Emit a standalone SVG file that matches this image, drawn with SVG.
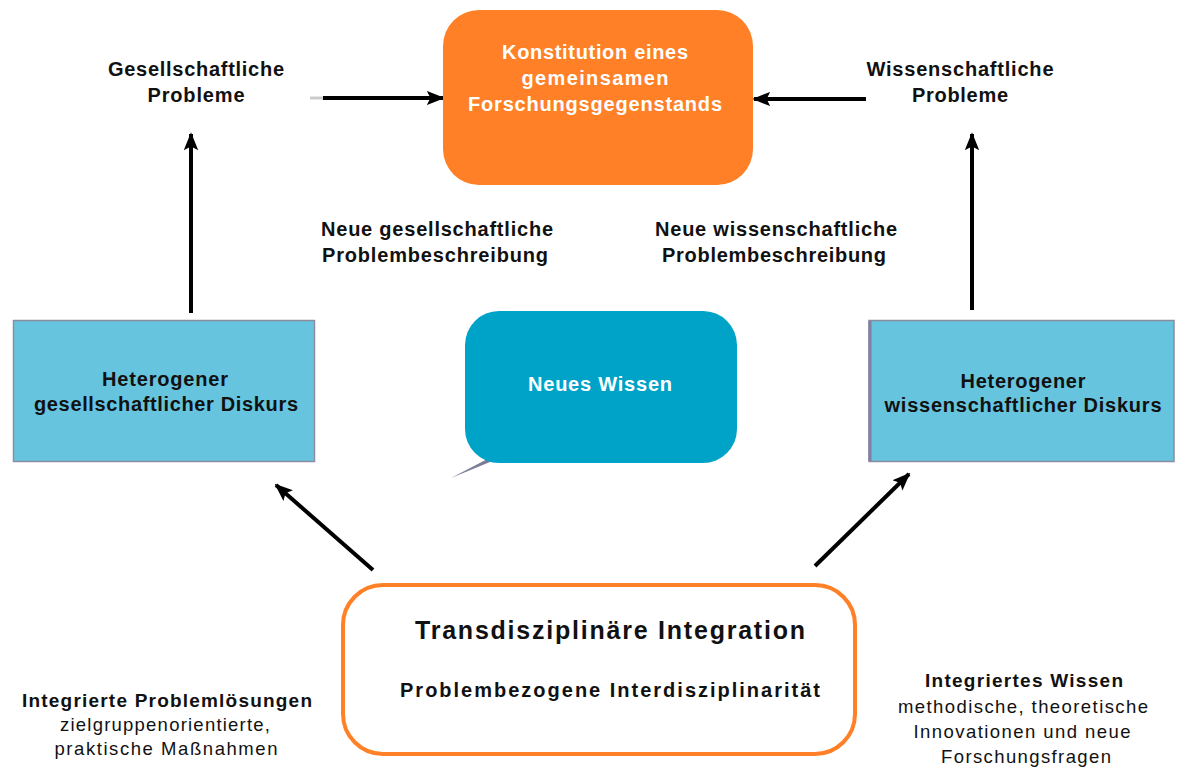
<svg xmlns="http://www.w3.org/2000/svg" width="1179" height="780" viewBox="0 0 1179 780">
<defs>
<style>
text{font-family:"Liberation Sans",Arial,sans-serif;text-anchor:middle;fill:#111;}
.b{font-weight:bold;font-size:20px;}
.w{fill:#fff;font-weight:bold;font-size:20px;}
.b2{font-weight:bold;font-size:19px;}
.n{font-size:18.5px;}
.line{stroke:#000;stroke-width:4;fill:none;marker-end:url(#ah);}
</style>
<marker id="ah" viewBox="0 0 10 10" refX="9" refY="5" markerWidth="4.5" markerHeight="4.5" orient="auto" markerUnits="strokeWidth">
<path d="M0,1 L10,5 L0,9 L2,5 Z" fill="#000"/>
</marker>
</defs>
<rect width="1179" height="780" fill="#fff"/>

<g id="connectors">
<line x1="310" y1="98" x2="323" y2="98" stroke="#ccc" stroke-width="3"/>
<line class="line" x1="323" y1="98" x2="443" y2="98"/>
<line class="line" x1="866" y1="99" x2="754" y2="99"/>
<line class="line" x1="191" y1="313" x2="191" y2="134"/>
<line class="line" x1="972" y1="310" x2="972" y2="134"/>
<line class="line" x1="373" y1="570" x2="276" y2="485"/>
<line class="line" x1="815" y1="566" x2="909" y2="474"/>
</g>

<g id="konstitution">
<rect x="443" y="10" width="310" height="175" rx="36" fill="#FF8026"/>
<text class="w" x="595" y="59" textLength="186" lengthAdjust="spacing">Konstitution eines</text>
<text class="w" x="595" y="85" textLength="147" lengthAdjust="spacing">gemeinsamen</text>
<text class="w" x="595" y="111" textLength="254" lengthAdjust="spacing">Forschungsgegenstands</text>
</g>

<g id="gesellschaftliche-probleme">
<text class="b" x="196" y="76" textLength="176" lengthAdjust="spacing">Gesellschaftliche</text>
<text class="b" x="196" y="102" textLength="97" lengthAdjust="spacing">Probleme</text>
</g>

<g id="wissenschaftliche-probleme">
<text class="b" x="960" y="76" textLength="187" lengthAdjust="spacing">Wissenschaftliche</text>
<text class="b" x="960" y="102" textLength="96" lengthAdjust="spacing">Probleme</text>
</g>

<g id="neue-gesellschaftliche">
<text class="b" x="437" y="236" textLength="232" lengthAdjust="spacing">Neue gesellschaftliche</text>
<text class="b" x="435" y="262" textLength="226" lengthAdjust="spacing">Problembeschreibung</text>
</g>

<g id="neue-wissenschaftliche">
<text class="b" x="776" y="236" textLength="242" lengthAdjust="spacing">Neue wissenschaftliche</text>
<text class="b" x="774" y="262" textLength="224" lengthAdjust="spacing">Problembeschreibung</text>
</g>

<g id="diskurs-gesellschaft">
<rect x="13.5" y="320.5" width="301" height="141" fill="#66C4DF" stroke="#8C8CA0" stroke-width="1.5"/>
<text class="b" x="165" y="386" textLength="126" lengthAdjust="spacing">Heterogener</text>
<text class="b" x="166" y="411" textLength="264" lengthAdjust="spacing">gesellschaftlicher Diskurs</text>
</g>

<g id="diskurs-wissenschaft">
<rect x="869" y="320.5" width="305" height="141" fill="#66C4DF" stroke="#8C8CA0" stroke-width="1.5"/>
<path d="M870,321 V461" stroke="#8080A0" stroke-width="3"/>
<text class="b" x="1023" y="388" textLength="125" lengthAdjust="spacing">Heterogener</text>
<text class="b" x="1023" y="412" textLength="277" lengthAdjust="spacing">wissenschaftlicher Diskurs</text>
</g>

<g id="neues-wissen">
<path d="M495,455 L451,478 L490,462 Z" fill="#7A7F95"/>
<rect x="465" y="311" width="272" height="152" rx="34" fill="#00A3C8"/>
<text class="w" x="600" y="391" textLength="144" lengthAdjust="spacing">Neues Wissen</text>
</g>

<g id="integration">
<rect x="343" y="585" width="512" height="169" rx="40" fill="#fff" stroke="#FF8026" stroke-width="4"/>
<text x="610" y="639" style="font-size:25px;font-weight:bold;" textLength="390" lengthAdjust="spacing">Transdisziplinäre Integration</text>
<text x="610" y="697" style="font-size:20px;font-weight:bold;" textLength="420" lengthAdjust="spacing">Problembezogene Interdisziplinarität</text>
</g>

<g id="problemloesungen">
<text class="b2" x="167" y="707" textLength="290" lengthAdjust="spacing">Integrierte Problemlösungen</text>
<text class="n" x="165" y="731" textLength="210" lengthAdjust="spacing">zielgruppenorientierte,</text>
<text class="n" x="166" y="755" textLength="223" lengthAdjust="spacing">praktische Maßnahmen</text>
</g>

<g id="integriertes-wissen">
<text class="b2" x="1024" y="687" textLength="198" lengthAdjust="spacing">Integriertes Wissen</text>
<text class="n" x="1023" y="713" textLength="250" lengthAdjust="spacing">methodische, theoretische</text>
<text class="n" x="1022" y="738" textLength="217" lengthAdjust="spacing">Innovationen und neue</text>
<text class="n" x="1026" y="763" textLength="170" lengthAdjust="spacing">Forschungsfragen</text>
</g>
</svg>
